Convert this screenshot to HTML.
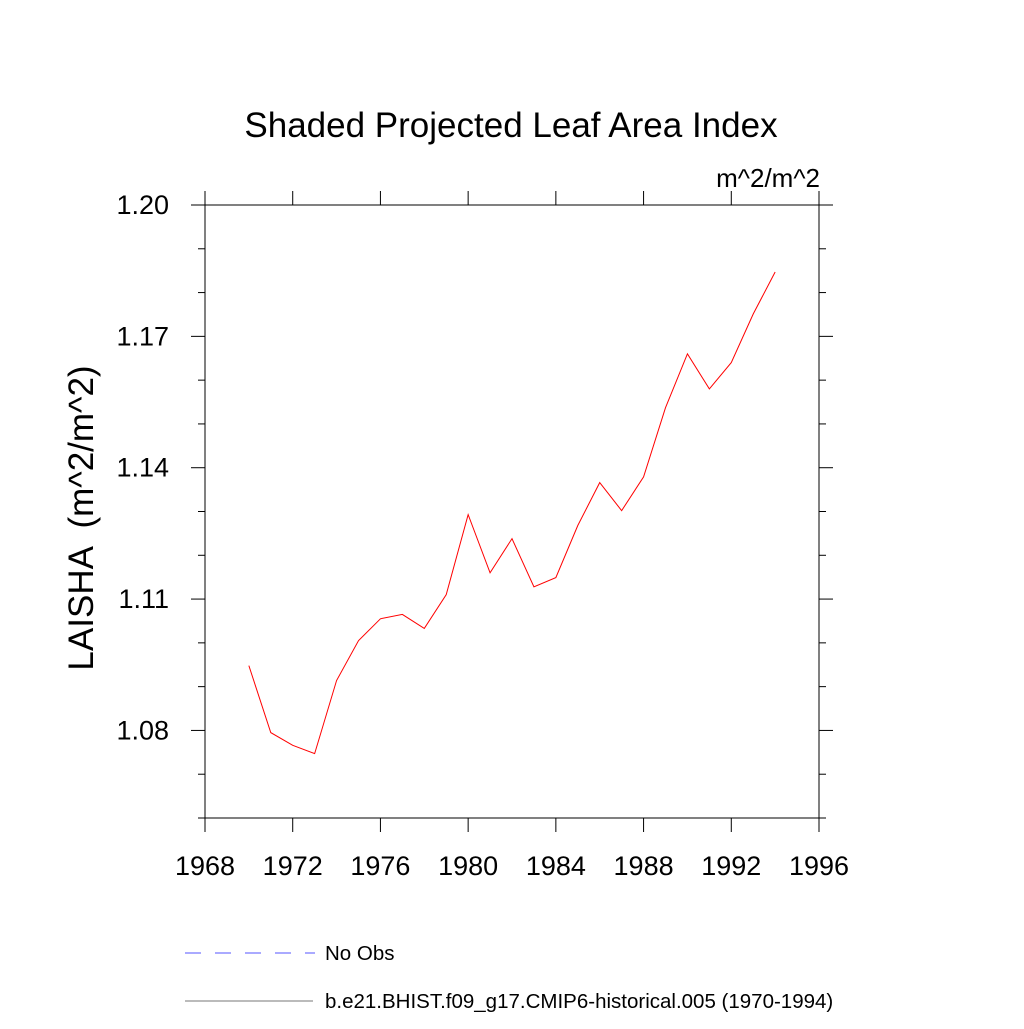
<!DOCTYPE html>
<html><head><meta charset="utf-8"><style>
body{margin:0;background:#fff}
svg text{font-family:"Liberation Sans",sans-serif;fill:#000}
</style></head><body>
<svg id="c" width="1024" height="1024" viewBox="0 0 1024 1024">
<text x="511" y="137" font-size="35" text-anchor="middle">Shaded Projected Leaf Area Index</text>
<text x="820" y="187" font-size="26" text-anchor="end">m^2/m^2</text>
<text transform="translate(93,518) rotate(-90)" font-size="35" text-anchor="middle" xml:space="preserve">LAISHA  (m^2/m^2)</text>
<g id="axes"></g>
<g id="series"></g>
<line x1="185" y1="953" x2="315" y2="953" stroke="#5555ff" stroke-width="1" stroke-dasharray="16,14"/>
<text x="325" y="960" font-size="20.5">No Obs</text>
<line x1="185" y1="1001" x2="313" y2="1001" stroke="#777" stroke-width="1"/>
<text x="325" y="1008" font-size="20.5">b.e21.BHIST.f09_g17.CMIP6-historical.005 (1970-1994)</text>
</svg>
<script>
const years=[1970,1971,1972,1973,1974,1975,1976,1977,1978,1979,1980,1981,1982,1983,1984,1985,1986,1987,1988,1989,1990,1991,1992,1993,1994];
const laisha=[1.0948,1.0795,1.0766,1.0747,1.0914,1.1005,1.1055,1.1065,1.1033,1.1110,1.1293,1.1160,1.1238,1.1128,1.1149,1.1268,1.1366,1.1302,1.1379,1.1537,1.1660,1.1580,1.1640,1.1751,1.1847];
const xTicks=[1968,1972,1976,1980,1984,1988,1992,1996];
const yTicks=[1.08,1.11,1.14,1.17,1.20];
const yLabels=["1.08","1.11","1.14","1.17","1.20"];
const X0=205,X1=819,Y0=818,Y1=205,xmin=1968,xmax=1996,ymin=1.06,ymax=1.20;
const sx=v=>X0+(v-xmin)/(xmax-xmin)*(X1-X0);
const sy=v=>Y0-(v-ymin)/(ymax-ymin)*(Y0-Y1);
const NS="http://www.w3.org/2000/svg";
const ax=document.getElementById('axes'),se=document.getElementById('series');
function ln(p,x1,y1,x2,y2,n,w){const l=document.createElementNS(NS,'line');l.setAttribute('x1',x1);l.setAttribute('y1',y1);l.setAttribute('x2',x2);l.setAttribute('y2',y2);l.setAttribute('stroke','#000');l.setAttribute('stroke-width',w||1);


p.appendChild(l);}
function tx(p,x,y,s,anchor,n){const t=document.createElementNS(NS,'text');t.setAttribute('x',x);t.setAttribute('y',y);t.setAttribute('font-size','27');t.setAttribute('text-anchor',anchor);t.textContent=s;


p.appendChild(t);}
const fr=document.createElementNS(NS,'rect');fr.setAttribute('x',X0);fr.setAttribute('y',Y1);fr.setAttribute('width',X1-X0);fr.setAttribute('height',Y0-Y1);fr.setAttribute('fill','none');fr.setAttribute('stroke','#000');


ax.appendChild(fr);
xTicks.forEach(v=>{const x=sx(v);ln(ax,x,Y0,x,Y0+14,'x-tick');ln(ax,x,Y1,x,Y1-14,'x-tick-top');tx(ax,x,875,String(v),'middle','x-tick-label');});
for(let i=0;i<=14;i++){const v=ymin+i*0.01,y=sy(v);const major=yTicks.some(t=>Math.abs(t-v)<1e-6);const L=major?14:7;ln(ax,X0-L,y,X0,y,'y-tick');ln(ax,X1,y,X1+L,y,'y-tick-right');}
yTicks.forEach((v,i)=>tx(ax,169,sy(v)+9,yLabels[i],'end','y-tick-label'));
const pl=document.createElementNS(NS,'polyline');
pl.setAttribute('points',years.map((y,i)=>sx(y)+','+sy(laisha[i])).join(' '));
pl.setAttribute('fill','none');pl.setAttribute('stroke','#ff0000');pl.setAttribute('stroke-width','1');


se.appendChild(pl);
</script>
</body></html>
